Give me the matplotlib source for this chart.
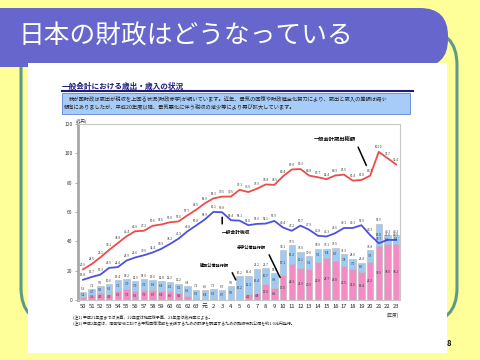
import numpy as np
import matplotlib.pyplot as plt
from matplotlib.patches import FancyBboxPatch, Rectangle

plt.rcParams['font.family'] = ['Noto Sans CJK JP', 'DejaVu Sans']

# fiscal years (Showa 50 .. Heisei 23)
years = ['50', '51', '52', '53', '54', '55', '56', '57', '58', '59', '60', '61', '62', '63',
         '元', '2', '3', '4', '5', '6', '7', '8', '9', '10', '11', '12', '13', '14', '15',
         '16', '17', '18', '19', '20', '21', '22', '23']

# 一般会計歳出総額 (兆円)
spending = [20.9, 24.5, 29.1, 34.1, 38.8, 43.4, 46.9, 47.2, 50.6, 51.5, 53.0, 53.6, 57.7, 61.5,
            65.9, 69.3, 70.5, 70.5, 75.1, 73.6, 75.9, 78.8, 78.5, 84.4, 89.0, 89.3, 84.8, 83.7,
            82.4, 84.9, 85.5, 81.4, 81.8, 84.7, 101.0, 96.7, 92.4]
# 一般会計税収
tax = [13.8, 15.7, 17.3, 21.9, 22.4, 26.9, 29.0, 30.5, 32.4, 34.9, 38.2, 41.9, 46.8, 50.8,
       54.9, 60.1, 59.8, 54.4, 54.1, 51.0, 51.9, 52.1, 53.9, 49.4, 47.2, 50.7, 47.9, 43.8,
       43.3, 45.6, 49.1, 49.1, 51.0, 44.3, 38.7, 41.0, 40.9]
# 建設公債発行額
kensetsu = [3.2, 3.7, 5.0, 6.3, 7.1, 7.0, 7.0, 7.0, 6.9, 6.4, 6.3, 6.2, 6.9, 6.2,
            6.4, 6.3, 6.7, 9.5, 16.2, 12.3, 16.4, 10.7, 9.9, 17.1, 13.2, 11.1, 9.1, 9.1,
            6.4, 8.7, 7.8, 7.0, 6.0, 7.6, 15.0, 6.3, 6.1]
# 赤字(特例)公債発行額
tokurei = [2.1, 3.5, 4.5, 4.3, 6.3, 7.2, 5.9, 7.0, 6.7, 6.4, 6.0, 5.0, 2.5, 0.9,
           0.2, 1.0, 0.0, 0.0, 0.0, 4.1, 4.8, 11.0, 8.5, 17.0, 24.3, 21.9, 20.9, 25.8,
           28.7, 26.8, 23.5, 21.0, 19.4, 26.2, 36.9, 38.0, 38.2]

title = '日本の財政はどうなっている'
subtitle = '一般会計における歳出・歳入の状況'
box_lines = ['我が国財政は歳出が税収を上回る状況(財政赤字)が続いています。近年、景気の回復や財政健全化努力により、歳出と歳入の差額は縮小',
             '傾向にありましたが、平成20年度以降、景気悪化に伴う税収の減少等により再び拡大しています。']
notes = ['(注1) 平成21年度までは決算、22年度は補正後予算、23年度は政府案による。',
         '(注2) 平成2年度は、湾岸地域における平和回復活動を支援するための財源を調達するための臨時特別公債を約1.0兆円発行。']

fig = plt.figure(figsize=(4.8, 3.6), dpi=100)
fig.patch.set_facecolor('#FFFF99')

# slide background, pixel coords
bg = fig.add_axes([0, 0, 1, 1])
bg.set_xlim(0, 480)
bg.set_ylim(360, 0)
bg.axis('off')

bg.add_patch(FancyBboxPatch((21, 30), 436, 293, boxstyle='round,pad=0,rounding_size=35',
                            fill=False, ec='#5E9A88', lw=2.2))
bg.add_patch(FancyBboxPatch((-40, 8), 488, 59, boxstyle='round,pad=0,rounding_size=28',
                            fc='#6666CC', ec='none'))
bg.add_patch(Rectangle((28, 63), 419, 290, fc='white', ec='none'))
bg.text(18, 37, title, color='white', fontsize=18.5, va='center')
bg.text(447, 344, '8', fontsize=5.5, fontweight='bold', va='center')

bg.text(62, 86, subtitle, fontsize=5.5, fontweight='bold', color='#1A1A80', va='center')
bg.plot([62, 413], [91, 91], color='#1A1A80', lw=1.5)
bg.add_patch(Rectangle((62, 93), 348, 21, fc='#A6CCF7', ec='#4A6FD0', lw=0.5))
bg.text(69, 99.5, box_lines[0], fontsize=3.8, color='#222222', va='center')
bg.text(64, 106.5, box_lines[1], fontsize=3.8, color='#222222', va='center')
bg.text(73, 318, notes[0], fontsize=2.9, color='#222222', va='center')
bg.text(73, 324, notes[1], fontsize=2.9, color='#222222', va='center')
bg.text(76, 121, '(兆円)', fontsize=3, color='#333333', va='center')
bg.text(393, 315, '(年度)', fontsize=3.3, color='#333333', va='center', ha='center')

# chart
ax = fig.add_axes([78 / 480, 60 / 360, 322 / 480, 176 / 360])
x = np.arange(len(years))
ax.set_xlim(-0.575, 36.44)
ax.set_ylim(0, 120)

ax.bar(x, tokurei, width=0.75, color='#F28CC4', edgecolor='#B8B8B8', lw=0.4)
ax.bar(x, kensetsu, width=0.75, bottom=tokurei, color='#9ECBF4', edgecolor='#B8B8B8', lw=0.4)
ax.plot(x, spending, color='#EE4B4B', lw=1.3)
ax.plot(x, tax, color='#4F4FE0', lw=1.3)

lab = dict(fontsize=2.2, style='italic', ha='center', color='#333333')
for i in range(len(years)):
    ax.text(i, spending[i] + 1.8, f'{spending[i]:.1f}', va='bottom', **lab)
    ax.text(i, tax[i] + 1.8, f'{tax[i]:.1f}', va='bottom', **lab)
    total = kensetsu[i] + tokurei[i]
    ax.text(i, total + 1.0, f'{total:.1f}', va='bottom', **lab)
    if kensetsu[i] > 2.5:
        ax.text(i, tokurei[i] + kensetsu[i] / 2, f'{kensetsu[i]:.1f}', va='center', **lab)
    if tokurei[i] > 2.5:
        ax.text(i, tokurei[i] / 2, f'{tokurei[i]:.1f}', va='center', **lab)

arw = dict(arrowstyle='-', color='black', lw=1.1)
ax.annotate('一般会計歳出総額', xy=(32.7, 90), xytext=(31.3, 109.7), fontsize=3.8,
            fontweight='bold', ha='right', va='center',
            arrowprops=dict(arw, relpos=(1, 0.2)))
ax.annotate('一般会計税収', xy=(16, tax[16] - 1.5), xytext=(16, 46.4), fontsize=3.4,
            fontweight='bold', ha='left', va='center',
            arrowprops=dict(arw, relpos=(0, 1)))
ax.annotate('赤字公債発行額', xy=(22.8, 13.6), xytext=(17.7, 36.1), fontsize=3.0,
            fontweight='bold', ha='left', va='center',
            arrowprops=dict(arw, relpos=(1, 0.3)))
ax.annotate('建設公債発行額', xy=(17.7, 12.0), xytext=(13.45, 23.9), fontsize=3.0,
            fontweight='bold', ha='left', va='center',
            arrowprops=dict(arw, relpos=(1, 0.3)))

ax.set_xticks(x)
ax.set_xticklabels(years)
ax.tick_params(axis='x', length=0, labelsize=4.2, pad=3, labelcolor='#222222')
ax.set_yticks(np.arange(0, 121, 20))
ax.tick_params(axis='y', length=2, width=0.5, labelsize=3.5, pad=2, labelcolor='#333333',
               color='#888888')
ax.spines['left'].set_color('#A8A8A8')
ax.spines['left'].set_linewidth(2)
for s in ['top', 'right', 'bottom']:
    ax.spines[s].set_color('#C8C8C8')
    ax.spines[s].set_linewidth(0.8)
ax.set_facecolor('white')

fig.savefig('out.png', dpi=100, facecolor=fig.get_facecolor())
